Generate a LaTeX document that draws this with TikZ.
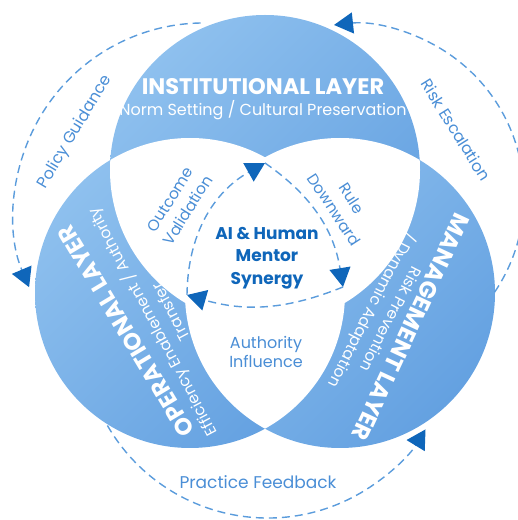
\documentclass[tikz,border=0pt]{standalone}
\usepackage{fontspec}
\setmainfont{Poppins}
\usetikzlibrary{arrows.meta,calc}

\definecolor{bluelight}{HTML}{8EC0EE}
\definecolor{bluedark}{HTML}{64A1E1}
\definecolor{labelblue}{HTML}{4A8ED6}
\definecolor{deepblue}{HTML}{0F66BA}
\definecolor{dashblue}{HTML}{5B9CDC}

\begin{document}
\begin{tikzpicture}[x=1pt,y=1pt,
  flow/.style={draw=dashblue, line width=1.4pt, dash pattern=on 8pt off 5pt,
    -{Triangle[length=19pt,width=21pt,color=deepblue,fill=deepblue]}},
  layertitle/.style={text=white, font=\bfseries\fontsize{23.5}{28}\selectfont, inner sep=0pt},
  layersub/.style={text=white, font=\fontsize{15.5}{21}\selectfont, align=center, inner sep=0pt},
  flowlabel/.style={text=labelblue, font=\fontsize{16}{19.5}\selectfont, align=center, inner sep=0pt},
  corelabel/.style={text=deepblue, font=\bfseries\fontsize{17}{22.5}\selectfont, align=center, inner sep=0pt},
  layerfill/.style={top color=bluelight, bottom color=bluedark, shading angle=45}
]
\useasboundingbox (0,0) rectangle (518,520);

% circle centres
\coordinate (inst) at (265,350);
\coordinate (oper) at (190,227);
\coordinate (mgmt) at (340,227);
\def\layerR{155}

% the three layers
\foreach \c in {inst,oper,mgmt}{
  \begin{scope}
    \clip (\c) circle[radius=\layerR];
    \shade[layerfill] ($(\c)+(-\layerR,-\layerR)$) rectangle ($(\c)+(\layerR,\layerR)$);
  \end{scope}
}
% overlaps are left white
\begin{scope}
  \clip (inst) circle[radius=\layerR];
  \fill[white] (oper) circle[radius=\layerR];
  \fill[white] (mgmt) circle[radius=\layerR];
\end{scope}
\begin{scope}
  \clip (oper) circle[radius=\layerR];
  \fill[white] (mgmt) circle[radius=\layerR];
\end{scope}

% layer titles
\node[layertitle, font=\bfseries\fontsize{22.5}{27}\selectfont] (inst-title) at (263,433) {INSTITUTIONAL LAYER};
\node[layersub, font=\fontsize{16}{19}\selectfont] (inst-sub) at (263,410) {Norm Setting / Cultural Preservation};

\node[layertitle, rotate=121] (oper-title) at (126,189) {OPERATIONAL LAYER};
\node[layersub, rotate=118] (oper-sub) at (160,202) {Efficiency Enablement / Authority\\Transfer};

\node[layertitle, rotate=-115] (mgmt-title) at (411,193) {MANAGEMENT LAYER};
\node[layersub, rotate=-117] (mgmt-sub) at (380,206) {Risk Prevention\\/ Dynamic Adaptation};

% core
\node[corelabel] (core) at (267,262) {AI \& Human\\Mentor\\Synergy};
\node[flowlabel] (authority) at (266,168) {Authority\\Influence};

% outer flows
\coordinate (policy-start) at (200.7,497);
\draw[flow] (policy-start) arc[start angle=91, end angle=203, radius=190];
\coordinate (risk-start) at (494.6,227.8);
\draw[flow] (risk-start) arc[start angle=-34, end angle=96, radius=172];
\coordinate (practice-start) at (107.4,94.5);
\draw[flow] (practice-start) arc[start angle=210, end angle=328.6, radius=185];

% inner cycle
\coordinate (core-top) at (265,357);
\coordinate (core-right) at (343,233);
\coordinate (core-left) at (187,225);
\draw[flow] (core-top) to[bend left=23] (core-right);
\draw[flow] (core-right) to[bend left=19] (core-left);
\draw[flow] (core-left) to[bend left=30] (core-top);

% flow labels
\node[flowlabel, rotate=59] (policy) at (75,388) {Policy Guidance};
\node[flowlabel, rotate=-58] (risk) at (456,390) {Risk Escalation};
\node[flowlabel, font=\fontsize{17}{20}\selectfont] (practice) at (258,38) {Practice Feedback};
\node[flowlabel, rotate=58, font=\fontsize{15.5}{21}\selectfont] (outcome) at (179,315) {Outcome\\Validation};
\node[flowlabel, rotate=-57, font=\fontsize{15.5}{21}\selectfont] (rule) at (343,316) {Rule\\Downward};
\end{tikzpicture}
\end{document}
